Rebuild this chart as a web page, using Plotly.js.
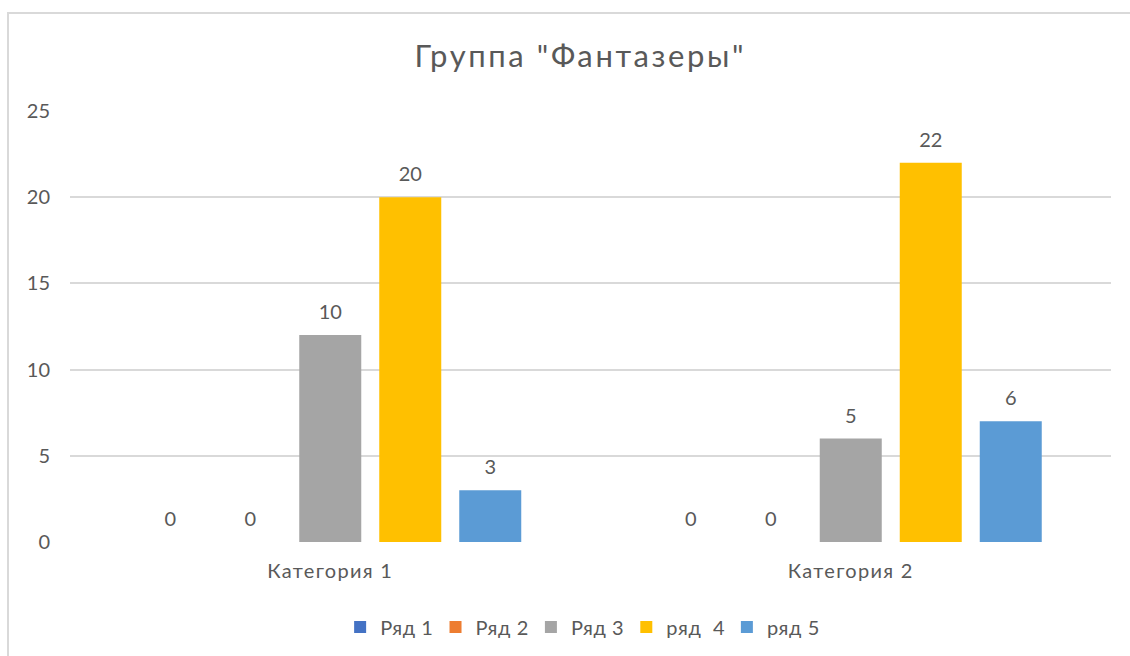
<!DOCTYPE html>
<html>
<head>
<meta charset="utf-8">
<script src="https://cdn.plot.ly/plotly-3.0.1.min.js"></script>
<style>
  html, body { margin: 0; padding: 0; background: #ffffff; overflow: hidden; }
  #chart { width: 1130px; height: 656px; position: absolute; left: 0; top: 0; }
  #frame { position: absolute; left: 7px; top: 12px; width: 1140px; height: 700px;
           border: 2px solid #d9d9d9; pointer-events: none; box-sizing: border-box; }
  #chart .gtitle { letter-spacing: 2.6px; }
  #chart .xtick text { letter-spacing: 1.3px; }
  #chart .legendtext { letter-spacing: 0.6px; }
</style>
</head>
<body>
<div id="chart"></div>
<div id="frame"></div>
<script>
// ---- data ----
const categories = ["Категория 1", "Категория 2"];
const seriesNames = ["Ряд 1", "Ряд 2", "Ряд 3", "ряд  4", "ряд 5"];
const seriesColors = ["#4472C4", "#ED7D31", "#A5A5A5", "#FFC000", "#5B9BD5"];
// bar heights as drawn
const ryad1 = [0, 0];
const ryad2 = [0, 0];
const ryad3 = [12, 6];
const ryad4 = [20, 22];
const ryad5 = [3, 7];
// data labels as printed
const labels1 = ["0", "0"];
const labels2 = ["0", "0"];
const labels3 = ["10", "5"];
const labels4 = ["20", "22"];
const labels5 = ["3", "6"];
const yTicks = [0, 5, 10, 15, 20, 25];

const values = [ryad1, ryad2, ryad3, ryad4, ryad5];
const labels = [labels1, labels2, labels3, labels4, labels5];

const FONT = "Lato, 'Open Sans', sans-serif";
const TEXT = "#595959";
const GAP = 0.2315;

const traces = [];
seriesNames.forEach((name, i) => {
  traces.push({
    type: "bar",
    name: name,
    x: categories,
    y: values[i],
    marker: { color: seriesColors[i] },
    hoverinfo: "skip"
  });
});
seriesNames.forEach((name, i) => {
  traces.push({
    type: "scatter",
    mode: "markers+text",
    x: categories,
    y: values[i],
    text: labels[i],
    textposition: "top center",
    textfont: { family: FONT, size: 20, color: TEXT },
    marker: { size: 16, color: "rgba(0,0,0,0)" },
    showlegend: false,
    hoverinfo: "skip",
    cliponaxis: false
  });
});

const layout = {
  width: 1130,
  height: 656,
  paper_bgcolor: "rgba(0,0,0,0)",
  plot_bgcolor: "rgba(0,0,0,0)",
  margin: { l: 70, r: 19, t: 111, b: 114 },
  font: { family: FONT, color: TEXT, size: 20 },
  title: {
    text: 'Группа "Фантазеры"',
    font: { family: FONT, size: 31, color: TEXT },
    x: 0.5135, xanchor: "center",
    y: 1 - 56 / 656, yanchor: "middle", yref: "container"
  },
  barmode: "group",
  bargap: GAP,
  bargroupgap: 0.225,
  scattermode: "group",
  scattergap: GAP,
  showlegend: true,
  legend: {
    orientation: "h",
    x: 0.491, xanchor: "center",
    y: 1 - 627 / 656, yanchor: "middle", yref: "container",
    font: { family: FONT, size: 20, color: TEXT },
    itemwidth: 30,
    traceorder: "normal"
  },
  xaxis: {
    type: "category",
    showgrid: false,
    zeroline: false,
    showline: false,
    ticks: "",
    ticklabelstandoff: 15,
    tickfont: { family: FONT, size: 20, color: TEXT },
    fixedrange: true
  },
  yaxis: {
    range: [0, 25],
    tickvals: yTicks,
    showgrid: true,
    gridcolor: "#d9d9d9",
    gridwidth: 2,
    zeroline: false,
    showline: false,
    ticks: "",
    ticklabelstandoff: 19,
    tickfont: { family: FONT, size: 20, color: TEXT },
    fixedrange: true
  }
};

Plotly.newPlot("chart", traces, layout, { displayModeBar: false, staticPlot: true });
</script>
</body>
</html>
